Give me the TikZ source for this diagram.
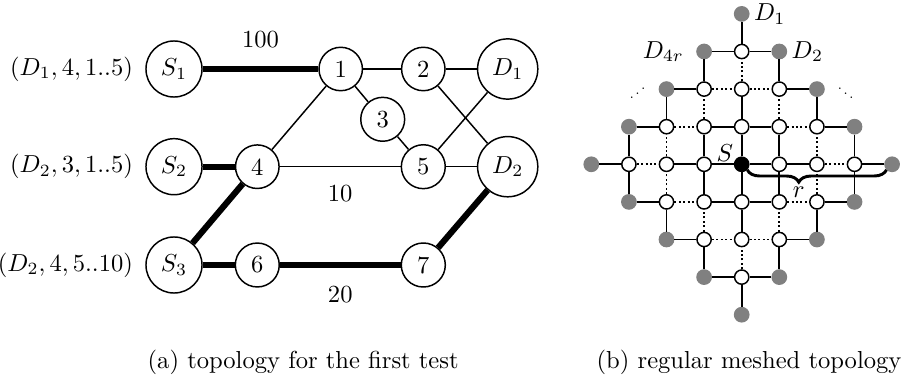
\documentclass[tikz,border=0pt]{standalone}
\usepackage{amsmath}
\usepackage{amsfonts}
\usetikzlibrary{positioning,decorations.pathreplacing}

\begin{document}
\begin{tikzpicture}[x=0.407pt, y=0.407pt,
    router/.style ={circle, draw, semithick},
    plain/.style ={semithick},
    heavy/.style ={line width=2.5pt},
    meshnode/.style ={circle, semithick, minimum size=5.8pt, inner sep=0pt},
    mesh/.style ={thick}]
   \useasboundingbox (0,0) rectangle (902,376);

   % (a) first test
   \node[router] (s1) at (174,307)   {$S_1$};
   \node[router] (s2) at (174,209.3) {$S_2$};
   \node[router] (s3) at (174,111)   {$S_3$};
   \node[router] (n1) at (340.7,307)   {1};
   \node[router] (n2) at (423.3,307)   {2};
   \node[router] (n3) at (382.7,256.7) {3};
   \node[router] (n4) at (257.3,209.3) {4};
   \node[router] (n5) at (423.3,209.3) {5};
   \node[router] (n6) at (257.3,111)   {6};
   \node[router] (n7) at (423.3,111)   {7};
   \node[router] (d1) at (507.7,307)   {$D_1$};
   \node[router] (d2) at (507.7,209.3) {$D_2$};

   \node[left=1.5pt of s1] (t1) {$(D_1,4,1..5)$};
   \node[left=1.5pt of s2] (t2) {$(D_2,3,1..5)$};
   \node[left=1.5pt of s3] (t3) {$(D_2,4,5..10)$};

   \draw[plain] (n1) to (n2);
   \draw[plain] (n2) to (d1);
   \draw[plain] (n1) to (n3);
   \draw[plain] (n3) to (n5);
   \draw[plain] (n1) to (n4);
   \draw[plain] (n4) -- (n5) node[midway, below=4pt] (w45) {10};
   \draw[plain] (n5) to (d1);
   \draw[plain] (n2) to (d2);
   \draw[plain] (n5) to (d2);

   \draw[heavy] (s1) -- (n1) node[midway, above=4pt] (w1) {100};
   \draw[heavy] (s2) to (n4);
   \draw[heavy] (s3) to (n4);
   \draw[heavy] (s3) to (n6);
   \draw[heavy] (n6) -- (n7) node[midway, below=4pt] (w67) {20};
   \draw[heavy] (n7) to (d2);

   \node[anchor=west] (capa) at (139,14) {(a) topology for the first test};

   % (b) meshed topology, ring 4 = destinations
   \begin{scope}[shift={(741.7,211.7)}]
   \foreach \i in {0,...,8} {
     \foreach \j in {0,...,8} {
       \pgfmathtruncatemacro{\lev}{abs(\i-4)+abs(\j-4)}
       \ifcase\lev \def\ringfill{black}\def\ringdraw{black}
       \or \def\ringfill{white}\def\ringdraw{black}
       \or \def\ringfill{white}\def\ringdraw{black}
       \or \def\ringfill{white}\def\ringdraw{black}
       \or \def\ringfill{gray}\def\ringdraw{gray}
       \fi
       \ifnum\lev<5
         \node[meshnode, fill=\ringfill, draw=\ringdraw] (m\i\j) at ({37.6*(\i-4)},{37.6*(\j-4)}) {};
       \fi
     }
   }
   \end{scope}

   \foreach \i in {0,...,8} {
     \foreach \j in {0,...,8} {
       \pgfmathtruncatemacro{\lev}{abs(\i-4)+abs(\j-4)}
       \pgfmathtruncatemacro{\ii}{\i+1}
       \pgfmathtruncatemacro{\jj}{\j+1}
       \pgfmathtruncatemacro{\levr}{abs(\ii-4)+abs(\j-4)}
       \pgfmathtruncatemacro{\levu}{abs(\i-4)+abs(\jj-4)}
       \ifnum\lev<5 \ifnum\levr<5
         \ifnum\numexpr\lev+\levr\relax=5 \draw[mesh, densely dotted] (m\i\j) to (m\ii\j);
         \else \draw[mesh] (m\i\j) to (m\ii\j); \fi
       \fi \fi
       \ifnum\lev<5 \ifnum\levu<5
         \ifnum\numexpr\lev+\levu\relax=5 \draw[mesh, densely dotted] (m\i\j) to (m\i\jj);
         \else \draw[mesh] (m\i\j) to (m\i\jj); \fi
       \fi \fi
     }
   }

   \node[above left=-2.3pt and 0pt of m44, inner sep=1pt] (slab) {$S$};
   \node[right=-1.7pt of m48] (dd1) {$D_1$};
   \node[right=-1.7pt of m57] (dd2) {$D_2$};
   \node[left=1.5pt of m37] (ddr) {$D_{4r}$};
   \node[left=1.5pt of m26] (dotl) {\reflectbox{\scalebox{0.6}{$\ddots$}}};
   \node[right=1.5pt of m66] (dotr) {\scalebox{0.6}{$\ddots$}};

   \draw[very thick, decorate, decoration={brace, mirror, amplitude=5pt, aspect=0.37}]
     (m44.south east) -- (m84.south west) node[pos=0.37, below=3pt] (rlab) {$r$};

   \node[anchor=west] (capb) at (588,14) {(b) regular meshed topology};
\end{tikzpicture}
\end{document}
